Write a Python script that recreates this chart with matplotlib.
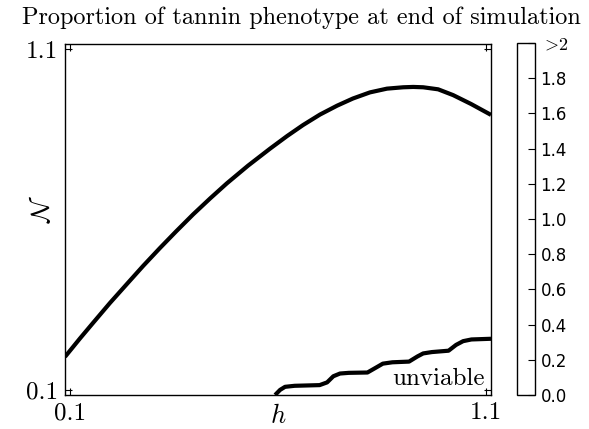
import numpy as np
import matplotlib
matplotlib.use("Agg")
import matplotlib.pyplot as plt
from matplotlib.colors import ListedColormap, Normalize
import matplotlib.cm as cm

plt.rcParams['mathtext.fontset'] = 'cm'
plt.rcParams['font.family'] = ['cmr10', 'DejaVu Sans']
plt.rcParams['axes.unicode_minus'] = False

# Upper boundary curve
upper_h = [0.088, 0.124, 0.155, 0.196, 0.237, 0.276, 0.316, 0.355, 0.396,
           0.437, 0.477, 0.528, 0.581, 0.622, 0.660, 0.701, 0.742, 0.780,
           0.821, 0.862, 0.901, 0.925, 0.949, 0.985, 1.021, 1.064, 1.112]
upper_N = [0.197, 0.251, 0.296, 0.355, 0.411, 0.464, 0.516, 0.565, 0.615,
           0.662, 0.706, 0.758, 0.808, 0.845, 0.877, 0.908, 0.934, 0.955,
           0.973, 0.984, 0.988, 0.989, 0.988, 0.982, 0.965, 0.939, 0.907]
# Lower (unviable) boundary, stepped
lower_h = [0.593, 0.605, 0.617, 0.640, 0.700, 0.718, 0.733, 0.749, 0.770,
           0.815, 0.835, 0.852, 0.875, 0.915, 0.935, 0.949, 0.970, 1.010,
           1.028, 1.045, 1.065, 1.112]
lower_N = [0.085, 0.100, 0.109, 0.112, 0.114, 0.122, 0.140, 0.148, 0.150,
           0.151, 0.165, 0.177, 0.181, 0.183, 0.198, 0.207, 0.211, 0.215,
           0.232, 0.243, 0.248, 0.250]

xticks = [0.1, 1.1]
yticks = [0.1, 1.1]
cbar_ticks = [0.0, 0.2, 0.4, 0.6, 0.8, 1.0, 1.2, 1.4, 1.6, 1.8, 2.0]
cbar_labels = ['0.0', '0.2', '0.4', '0.6', '0.8', '1.0', '1.2', '1.4', '1.6', '1.8', r'$>\!2$']

W, H = 589, 429
fig = plt.figure(figsize=(W / 100, H / 100), dpi=100)
ax = fig.add_axes([65 / W, 1 - 395 / H, 426 / W, 351 / H])
ax.plot(upper_h, upper_N, color='black', lw=3, solid_joinstyle='round', solid_capstyle='butt')
ax.plot(lower_h, lower_N, color='black', lw=3, solid_joinstyle='round', solid_capstyle='butt')
ax.set_xlim(0.088, 1.112)
ax.set_ylim(0.085, 1.115)
ax.set_xticks(xticks)
ax.set_yticks(yticks)
ax.set_xticklabels(['0.1', '1.1'], fontsize=18)
ax.set_yticklabels(['0.1', '1.1'], fontsize=18)
ax.tick_params(direction='in', length=5, width=0.8, top=True, right=True)
ax.tick_params(axis='x', pad=5)
ax.tick_params(axis='y', pad=5)
for s in ax.spines.values():
    s.set_linewidth(1.0)
ax.set_xlabel(r'$h$', fontsize=19)
ax.xaxis.set_label_coords(0.5, -0.027)
ax.xaxis.label.set_va('top')
ax.set_ylabel(r'$\mathcal{N}$', fontsize=19)
ax.yaxis.set_label_coords(-0.055, 0.53)
ax.yaxis.label.set_va('center')
ax.text(0.985, 0.015, 'unviable', transform=ax.transAxes, ha='right', va='bottom', fontsize=18)

fig.text(301 / W, 1 - 18 / H, 'Proportion of tannin phenotype at end of simulation',
         ha='center', va='center', fontsize=17.5)

cax = fig.add_axes([517 / W, 1 - 395 / H, 18 / W, 352 / H])
sm = cm.ScalarMappable(norm=Normalize(0, 2), cmap=ListedColormap(['white']))
cb = fig.colorbar(sm, cax=cax)
cb.set_ticks(cbar_ticks)
cb.set_ticklabels(cbar_labels)
cax.tick_params(direction='in', length=5, width=0.8, pad=4)
for lbl in cax.get_yticklabels():
    if '>' in lbl.get_text():
        lbl.set_fontsize(13)
    else:
        lbl.set_fontfamily('DejaVu Sans')
        lbl.set_fontsize(12)
cb.outline.set_linewidth(1.0)

fig.savefig('out.png', dpi=100)
